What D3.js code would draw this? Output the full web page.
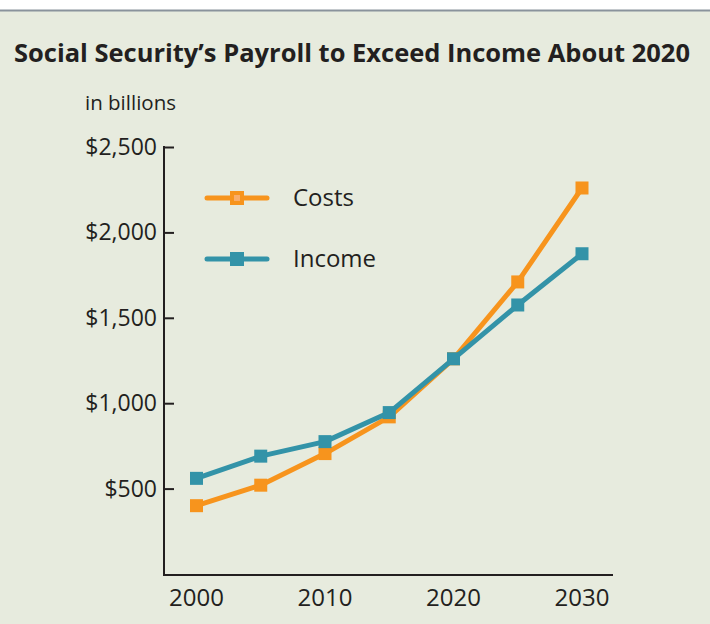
<!DOCTYPE html>
<html>
<head>
	<meta charset="UTF-8" />
	<title>social security payroll</title>
	<script src="https://d3js.org/d3.v7.min.js"></script>
	<style>
		body { margin: 0; background: #fff; }
		text { font-family: "Open Sans", "Noto Sans", sans-serif; fill: #231f20; }
	</style>
</head>
<body>
	<svg id="chart" width="710" height="624"></svg>

	<script type="text/javascript">
	// data (billions of dollars)
	var years = [2000, 2005, 2010, 2015, 2020, 2025, 2030]
	var costs = [400, 520, 705, 920, 1260, 1710, 2260]
	var income = [560, 690, 775, 945, 1260, 1575, 1875]
	var yTicks = [500, 1000, 1500, 2000, 2500]
	var xTicks = [2000, 2010, 2020, 2030]
	var seriesNames = ["Costs", "Income"]

	var orange = "#f7941d"
	var teal = "#3393a8"
	var ink = "#231f20"

	var svg = d3.select("#chart")

	// panel background + top rule
	svg.append("rect").attr("x", 0).attr("y", 11).attr("width", 710).attr("height", 613).attr("fill", "#e7ebde")
	svg.append("line").attr("x1", 0).attr("x2", 710).attr("y1", 10.5).attr("y2", 10.5)
		.attr("stroke", "#8a939c").attr("stroke-width", 2)

	svg.append("text").attr("x", 14).attr("y", 62)
		.attr("font-size", 25).attr("font-weight", "bold")
		.attr("textLength", 676).attr("lengthAdjust", "spacingAndGlyphs")
		.text("Social Security\u2019s Payroll to Exceed Income About 2020")

	svg.append("text").attr("x", 85).attr("y", 110).attr("font-size", 20.5).text("in billions")

	var x = d3.scaleLinear().domain([2000, 2030]).range([196.5, 582])
	var y = d3.scaleLinear().domain([0, 2500]).range([574, 147])

	// y axis: ticks point inward
	var yAxis = d3.axisRight(y).tickValues(yTicks).tickSize(10).tickFormat("")
	var gy = svg.append("g").attr("transform", "translate(164,0)").call(yAxis)
	gy.select(".domain").remove()
	gy.selectAll("line").attr("stroke", ink).attr("stroke-width", 2)
	svg.append("line").attr("x1", 164).attr("x2", 164).attr("y1", 146).attr("y2", 576)
		.attr("stroke", ink).attr("stroke-width", 2)

	svg.append("g").selectAll("text").data(yTicks).join("text")
		.attr("x", 157).attr("y", d => y(d)).attr("dy", "0.35em")
		.attr("text-anchor", "end").attr("font-size", 23)
		.text(d => "$" + d3.format(",")(d))

	// x axis
	svg.append("line").attr("x1", 163).attr("x2", 613).attr("y1", 575).attr("y2", 575)
		.attr("stroke", ink).attr("stroke-width", 2)
	svg.append("g").selectAll("text").data(xTicks).join("text")
		.attr("x", d => x(d)).attr("y", 606)
		.attr("text-anchor", "middle").attr("font-size", 24)
		.text(d => d)

	var line = d3.line().x(d => x(d.year)).y(d => y(d.v))
	var series = [
		{name: "Costs", color: orange, values: years.map((yr, i) => ({year: yr, v: costs[i]}))},
		{name: "Income", color: teal, values: years.map((yr, i) => ({year: yr, v: income[i]}))}
	]

	var g = svg.selectAll("g.series").data(series).join("g").attr("class", "series")
	g.append("path")
		.attr("d", d => line(d.values))
		.attr("fill", "none").attr("stroke", d => d.color).attr("stroke-width", 5)
		.attr("stroke-linejoin", "round")
	g.selectAll("rect").data(d => d.values.map(p => ({p: p, color: d.color}))).join("rect")
		.attr("x", d => x(d.p.year) - 6.5).attr("y", d => y(d.p.v) - 6.5)
		.attr("width", 13).attr("height", 13).attr("fill", d => d.color)

	// legend
	var leg = svg.selectAll("g.leg").data(series).join("g").attr("class", "leg")
		.attr("transform", (d, i) => `translate(207,${198 + i * 61})`)
	leg.append("line").attr("x1", 0).attr("x2", 60).attr("stroke", d => d.color)
		.attr("stroke-width", 5).attr("stroke-linecap", "round")
	leg.append("rect").attr("x", 23).attr("y", -7).attr("width", 14).attr("height", 14)
		.attr("fill", d => d.color)
	leg.filter(d => d.name == "Costs").append("rect")
		.attr("x", 27).attr("y", -3).attr("width", 6).attr("height", 6).attr("fill", "#f9ad6a")
	leg.append("text").attr("x", 86).attr("dy", "0.35em").attr("font-size", 24)
		.text((d, i) => seriesNames[i])
	</script>
</body>
</html>
